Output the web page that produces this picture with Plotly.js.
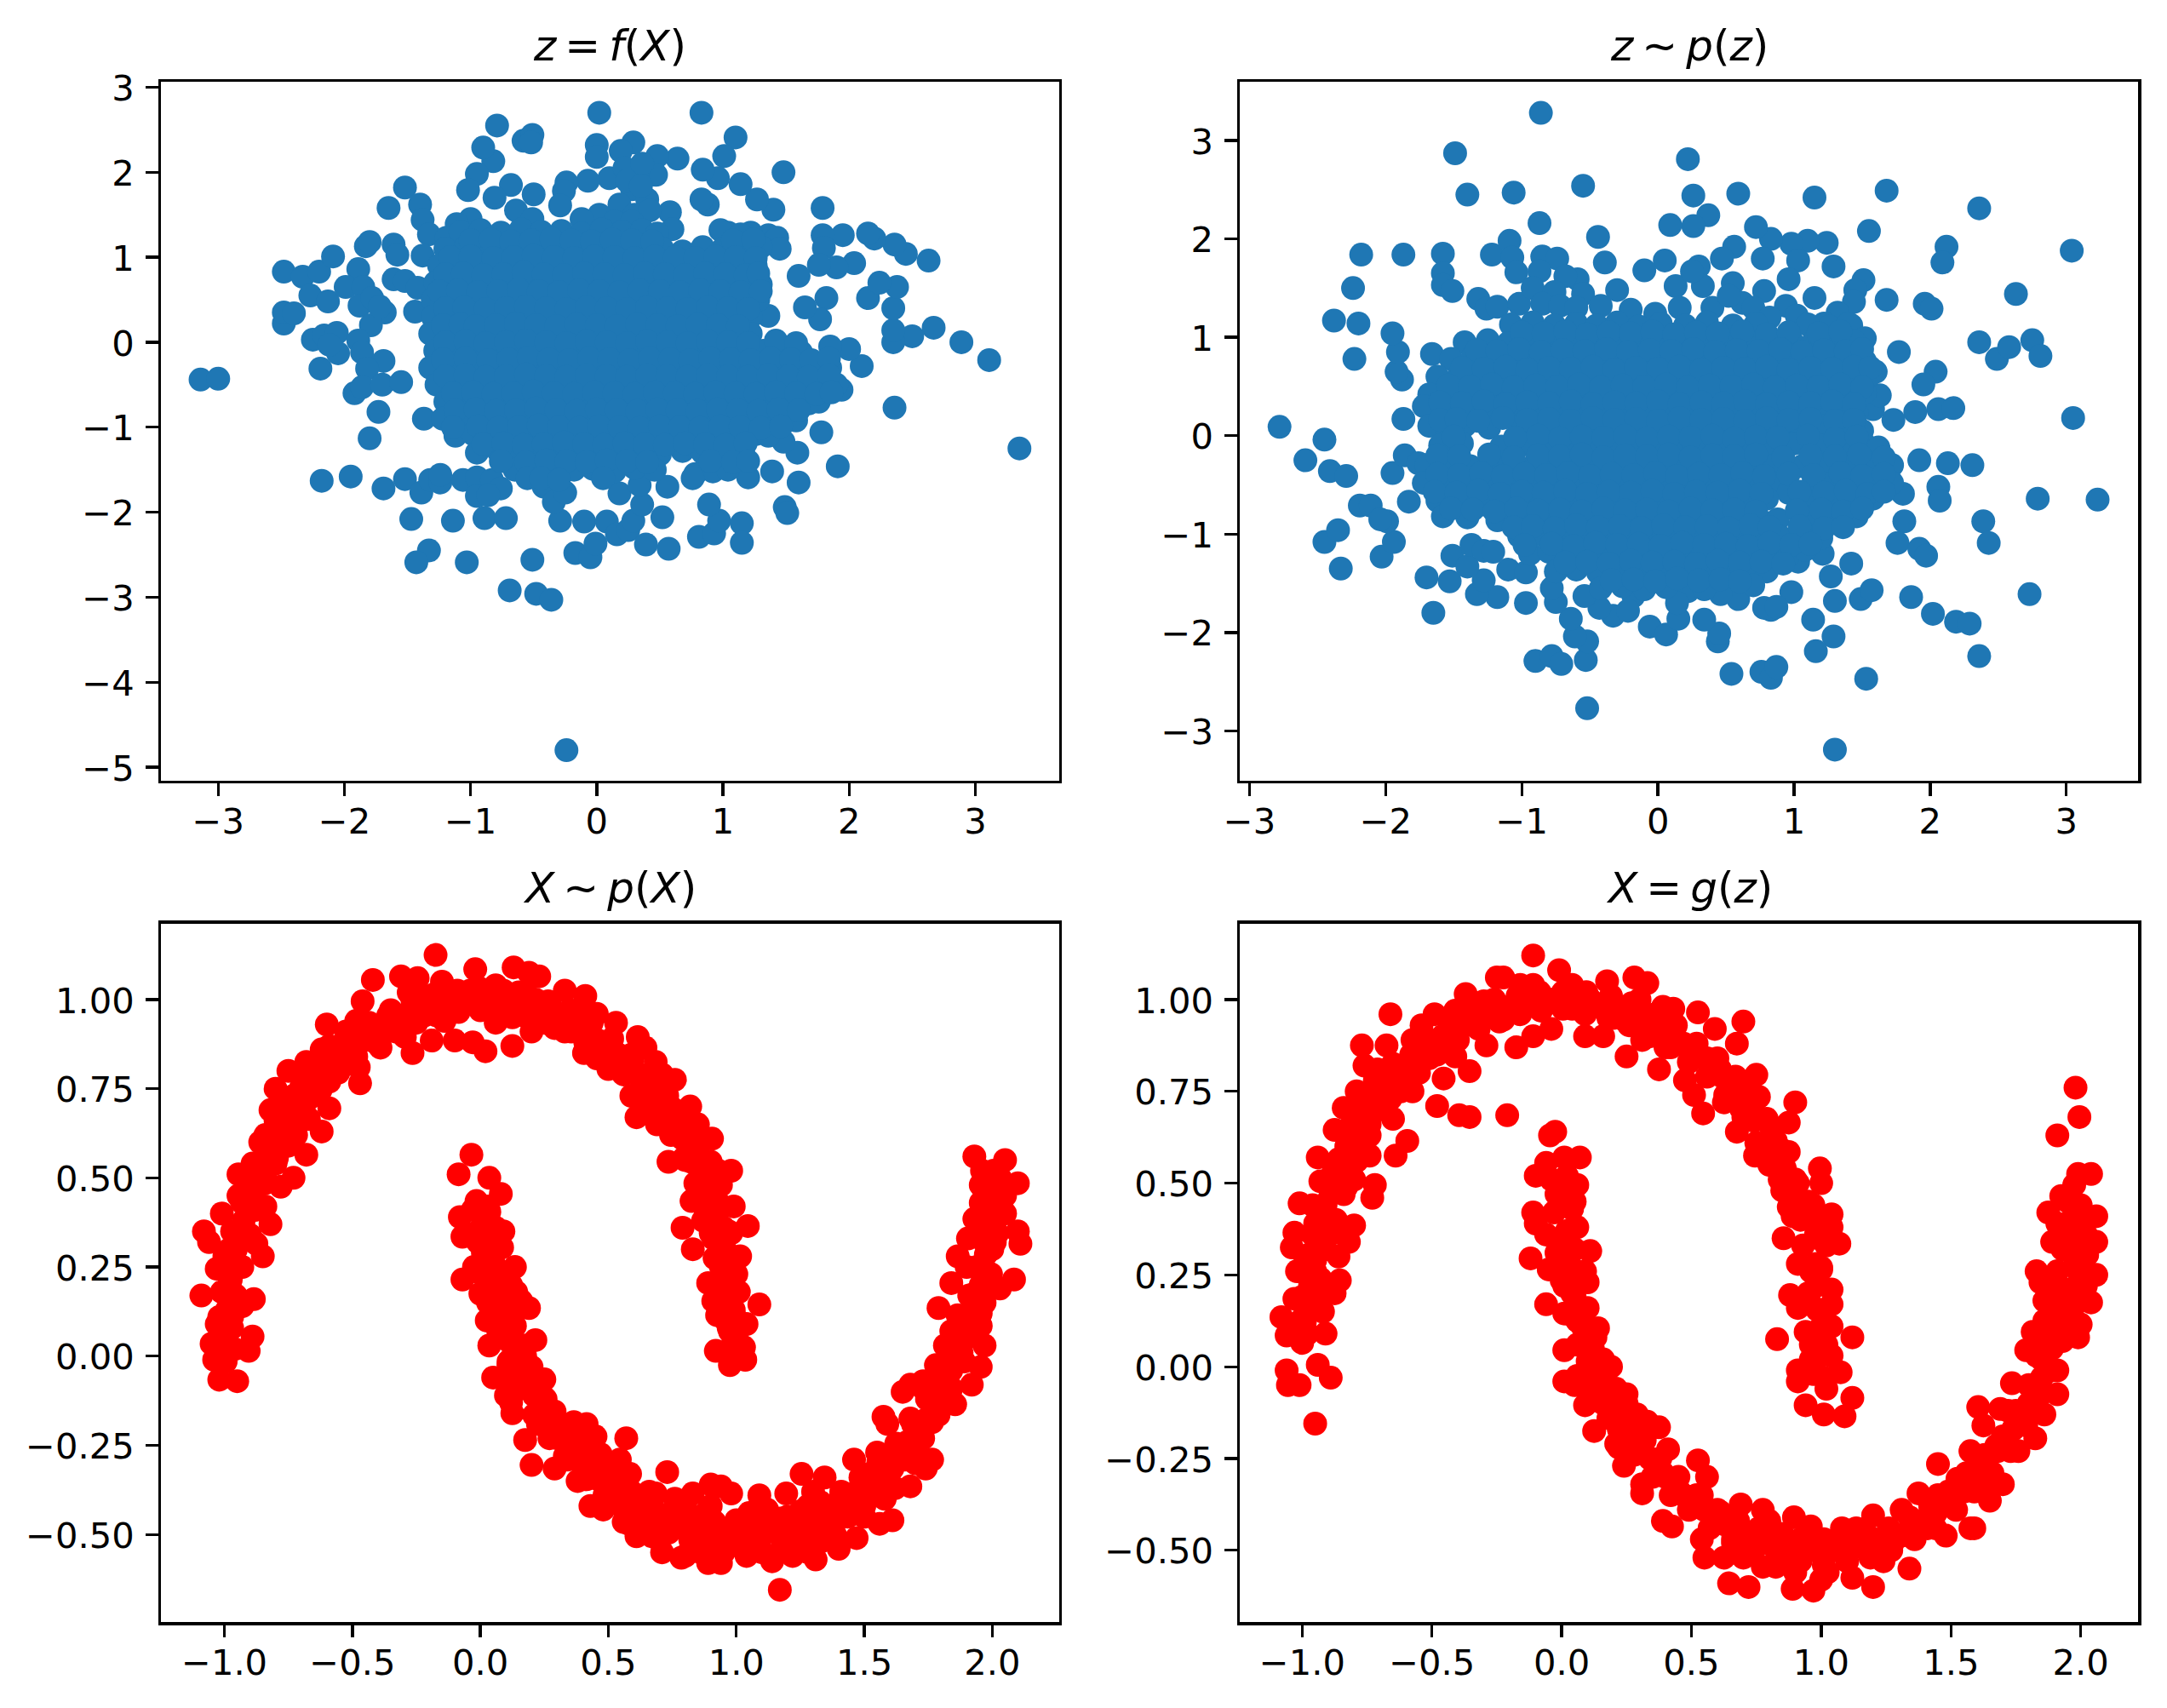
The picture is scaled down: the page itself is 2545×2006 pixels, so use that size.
<!DOCTYPE html>
<html><head><meta charset="utf-8">
<script src="https://cdn.plot.ly/plotly-3.0.1.min.js"></script>
<style>html,body{margin:0;padding:0;background:#fff}</style></head><body><div id="c" style="width:2545px;height:2006px"></div>
<script>
const zFromX = [[-3.14,-.44],[-3,-.43],[-2.48,.83],[-2.48,.22],[-2.48,.35],[-2.4,.34],[-2.33,.77],[-2.2,.83],[-2.27,.55],[-2.13,.48],[-2.09,1.01],[-1.89,.86],[-1.99,.65],[-1.85,.65],[-1.88,.43],[-1.83,1.13],[-1.8,1.18],[-1.61,1.15],[-1.58,1.03],[-1.65,1.58],[-1.52,1.82],[-1.4,1.62],[-1.38,1.44],[-1.33,1.27],[-1.38,1.02],[-1.61,.74],[-1.52,.72],[-1.42,.64],[-1.78,.52],[-1.68,.35],[-1.79,.2],[-1.44,.36],[-1.72,.42],[-2.25,.03],[-2.16,.08],[-2.06,.11],[-2.05,-.13],[-2.19,-.31],[-2.12,-.03],[-1.89,.02],[-1.86,-.12],[-1.69,-.22],[-1.82,-.31],[-1.92,-.6],[-1.86,-.53],[-1.7,-.5],[-1.55,-.47],[-1.73,-.82],[-1.8,-1.13],[-2.18,-1.63],[-1.95,-1.58],[-1.69,-1.72],[-1.52,-1.61],[-1.39,-1.77],[-1.32,-1.62],[-1.24,-1.65],[-1.24,-1.56],[-1.06,-1.62],[-.95,-1.59],[-.83,-1.62],[-.76,-1.72],[-.95,-1.81],[-.86,-1.8],[-1.47,-2.08],[-1.14,-2.1],[-.89,-2.07],[-.72,-2.07],[-1.33,-2.45],[-1.43,-2.59],[-1.03,-2.59],[-.51,-2.56],[-.69,-2.92],[-.48,-2.96],[-.36,-3.03],[-.24,-4.8],[-.17,-2.48],[-.05,-2.53],[-.01,-2.37],[-.29,-2.1],[-.1,-2.11],[.08,-2.11],[.16,-2.26],[.25,-2.21],[.29,-2.1],[.36,-1.91],[.39,-2.38],[.57,-2.43],[.52,-2.06],[.18,-1.78],[.34,-1.68],[.56,-1.7],[.81,-2.29],[.93,-2.25],[.97,-2.1],[.89,-1.91],[1.15,-2.13],[1.15,-2.36],[1.49,-1.94],[1.51,-2.01],[1.6,-1.65],[1.39,-1.52],[1.2,-1.59],[1.91,-1.46],[1.59,-1.3],[1.48,-1.17],[1.78,-1.06],[2.36,-.77],[3.35,-1.25],[3.11,-.21],[2.89,0],[2.67,.17],[2.5,.07],[2.35,0],[2.35,.14],[2.1,-.28],[2,-.08],[1.85,-.05],[1.94,-.56],[2.35,.4],[2.38,.65],[2.15,.52],[2.24,.7],[2.63,.96],[2.45,1.04],[2.36,1.15],[2.2,1.22],[2.15,1.28],[1.95,1.26],[1.79,1.26],[1.79,1.58],[1.8,1.11],[2.04,.93],[1.9,.88],[1.76,.91],[1.6,.78],[1.82,.52],[1.77,.27],[1.65,.41],[1.36,.31],[1.19,.19],[1.48,2],[1.4,1.56],[1.27,1.68],[1.14,1.86],[1.1,2.41],[1.01,2.19],[.96,1.93],[.84,2.03],[.83,2.7],[.02,2.7],[.64,2.16],[.48,2.19],[.47,1.97],[.29,2.35],[.19,2.25],[0,2.32],[0,2.18],[.1,1.93],[-.07,1.9],[-.24,1.88],[-.26,1.78],[-.29,1.61],[-.5,1.74],[-.68,1.85],[-.81,1.7],[-.82,2.13],[-.9,2.29],[-.79,2.55],[-.58,2.37],[-.51,2.44],[-.52,2.35],[-.95,1.98],[-1.02,1.79],[-.64,1.55],[-.51,1.45],[-1,1.45],[-1.11,1.39],[-1.19,1.23],[.88,1.62],[.83,1.68],[.58,1.53],[.6,1.33],[1.36,1.26],[1.43,1.23],[1.45,1.1],[1.06,.91],[1.04,1.29],[1.22,1.29],[.32,1.95],[.22,2.05],[.36,2.1],[.28,1.8],[.4,1.68],[.18,1.62],[.02,1.5],[.3,1.5],[.24,1.9],[.35,1.84],[.42,1.55],[.14,1.42],[.28,1.42],[-.12,1.45],
[-1.08,1.3],[-.92,1.32],[-.76,1.29],[-.6,1.33],[-.44,1.3],[-.28,1.31],[-.12,1.28],[.04,1.33],[.2,1.3],[.36,1.32],[.48,1.28],[.98,1.32],[1.14,1.27],
[-1.2,1.1],[-1.04,1.12],[-.88,1.09],[-.72,1.11],[-.56,1.08],[-.4,1.12],[-.24,1.1],[-.08,1.09],[.08,1.11],[.24,1.08],[.4,1.12],[.52,1.1],[.68,1.07],[.84,1.12],[1,1.1],[1.16,1.09],[1.3,1.12],
[-1.25,.9],[-1.12,.92],[-.96,.89],[-.8,.91],[-.64,.88],[-.48,.92],[-.32,.9],[-.16,.89],[0,.91],[.16,.88],[.32,.92],[.48,.9],[.64,.89],[.8,.91],[.96,.88],[1.12,.92],[1.26,.9],
[-1.28,.7],[-1.18,.72],[-1.04,.69],[-.88,.71],[-.72,.68],[-.56,.72],[-.4,.7],[-.24,.69],[-.08,.71],[.08,.68],[.24,.72],[.4,.7],[.56,.69],[.72,.71],[.88,.68],[1.04,.72],[1.2,.7],[1.3,.68],
[-1.3,.5],[-1.12,.52],[-.96,.49],[-.8,.51],[-.64,.48],[-.48,.52],[-.32,.5],[-.16,.49],[0,.51],[.16,.48],[.32,.52],[.48,.5],[.64,.49],[.8,.51],[.96,.48],[1.12,.52],[1.28,.5],
[-1.3,.3],[-1.18,.32],[-1.04,.29],[-.88,.31],[-.72,.28],[-.56,.32],[-.4,.3],[-.24,.29],[-.08,.31],[.08,.28],[.24,.32],[.4,.3],[.56,.29],[.72,.31],[.88,.28],[1.04,.32],[1.22,.3],
[-1.32,.1],[-1.16,.12],[-.96,.09],[-.8,.11],[-.64,.08],[-.48,.12],[-.32,.1],[-.16,.09],[0,.11],[.16,.08],[.32,.12],[.48,.1],[.64,.09],[.8,.11],[.96,.08],[1.12,.12],[1.22,.1],
[-1.28,-.1],[-1.1,-.08],[-.92,-.11],[-.76,-.09],[-.6,-.12],[-.44,-.08],[-.28,-.1],[-.12,-.11],[.04,-.09],[.2,-.12],[.36,-.08],[.52,-.1],[.68,-.11],[.84,-.09],[1,-.12],[1.16,-.08],[1.32,-.1],[1.48,-.09],[1.62,-.12],
[-1.32,-.3],[-1.16,-.28],[-1,-.31],[-.84,-.29],[-.68,-.32],[-.52,-.28],[-.36,-.3],[-.2,-.31],[-.04,-.29],[.12,-.32],[.28,-.28],[.44,-.3],[.6,-.31],[.76,-.29],[.92,-.32],[1.08,-.28],[1.24,-.3],[1.4,-.29],[1.56,-.32],[1.72,-.28],[1.85,-.3],
[-1.27,-.5],[-1.1,-.48],[-.94,-.51],[-.78,-.49],[-.62,-.52],[-.46,-.48],[-.3,-.5],[-.14,-.51],[.02,-.49],[.18,-.52],[.34,-.48],[.5,-.5],[.66,-.51],[.82,-.49],[.98,-.52],[1.14,-.48],[1.3,-.5],[1.46,-.49],[1.62,-.52],[1.78,-.48],[1.9,-.5],
[-1.2,-.7],[-1.04,-.68],[-.88,-.71],[-.72,-.69],[-.56,-.72],[-.4,-.68],[-.24,-.7],[-.08,-.71],[.08,-.69],[.24,-.72],[.4,-.68],[.56,-.7],[.72,-.71],[.88,-.69],[1.04,-.72],[1.2,-.68],[1.36,-.7],[1.52,-.69],[1.68,-.72],[1.76,-.7],
[-1.37,-.9],[-1.22,-.9],[-1.06,-.88],[-.9,-.91],[-.74,-.89],[-.58,-.92],[-.42,-.88],[-.26,-.9],[-.1,-.91],[.06,-.89],[.22,-.92],[.38,-.88],[.54,-.9],[.7,-.91],[.86,-.89],[1.02,-.92],[1.18,-.88],[1.34,-.9],[1.5,-.89],[1.58,-.92],
[-1.12,-1.1],[-.98,-1.08],[-.82,-1.11],[-.66,-1.09],[-.5,-1.12],[-.34,-1.08],[-.18,-1.1],[-.02,-1.11],[.14,-1.09],[.3,-1.12],[.46,-1.08],[.62,-1.1],[.78,-1.11],[.94,-1.09],[1.1,-1.12],[1.26,-1.08],[1.36,-1.1],
[-.95,-1.3],[-.78,-1.28],[-.62,-1.31],[-.46,-1.29],[-.3,-1.32],[-.14,-1.28],[.02,-1.3],[.18,-1.31],[.34,-1.29],[.5,-1.32],[.68,-1.28],[.84,-1.3],[1,-1.31],[1.16,-1.29],
[-.65,-1.5],[-.5,-1.52],[-.34,-1.48],[-.18,-1.5],[-.03,-1.49],[.14,-1.52],[.3,-1.48],[.46,-1.5],[.78,-1.55],[.92,-1.52],[1.04,-1.5],[-.42,-1.7],[-.34,-1.88],[-.25,-1.77],[.76,-1.6],
[-1,1.2],[-.84,1.21],[-.68,1.19],[-.52,1.2],[-.36,1.22],[-.2,1.2],[-.04,1.19],[.12,1.21],[.28,1.2],[.44,1.19],[1.08,1.2],[1.24,1.21],
[-1.16,1],[-1,1.01],[-.82,.99],[-.66,1],[-.5,1.02],[-.34,1],[-.18,.99],[-.02,1.01],[.14,1],[.3,.99],[.46,1.01],[.62,1],[.78,.99],[.94,1.01],[1.1,1],[1.26,.99],
[-1.2,.8],[-1.06,.81],[-.9,.79],[-.74,.8],[-.58,.82],[-.42,.8],[-.26,.79],[-.1,.81],[.06,.8],[.22,.79],[.38,.81],[.54,.8],[.7,.79],[.86,.81],[1.02,.8],[1.18,.79],[1.28,.81],
[-1.25,.6],[-1.1,.61],[-.94,.59],[-.78,.6],[-.62,.62],[-.46,.6],[-.3,.59],[-.14,.61],[.02,.6],[.18,.59],[.34,.61],[.5,.6],[.66,.59],[.82,.61],[.98,.6],[1.14,.59],[1.3,.6],
[-1.2,.4],[-1.05,.41],[-.88,.39],[-.72,.4],[-.56,.42],[-.4,.4],[-.24,.39],[-.08,.41],[.08,.4],[.24,.39],[.4,.41],[.56,.4],[.72,.39],[.88,.41],[1.04,.4],[1.2,.39],
[-1.22,.2],[-1.08,.21],[-.96,.19],[-.8,.2],[-.64,.22],[-.48,.2],[-.32,.19],[-.16,.21],[0,.2],[.16,.19],[.32,.21],[.48,.2],[.64,.19],[.8,.21],[.96,.2],[1.12,.19],
[-1.2,0],[-1.04,.01],[-.88,-.01],[-.72,0],[-.56,.02],[-.4,0],[-.24,-.01],[-.08,.01],[.08,0],[.24,-.01],[.4,.01],[.56,0],[.72,-.01],[.88,.01],[1.04,0],[1.2,-.01],[1.42,.02],[1.58,-.01],
[-1.22,-.2],[-1.04,-.19],[-.86,-.21],[-.7,-.2],[-.54,-.18],[-.38,-.2],[-.22,-.21],[-.06,-.19],[.1,-.2],[.26,-.21],[.42,-.19],[.58,-.2],[.74,-.21],[.9,-.19],[1.06,-.2],[1.22,-.21],[1.38,-.19],[1.54,-.2],[1.7,-.21],[1.84,-.19],
[-1.2,-.4],[-1.04,-.39],[-.88,-.41],[-.72,-.4],[-.56,-.38],[-.4,-.4],[-.24,-.41],[-.08,-.39],[.08,-.4],[.24,-.41],[.4,-.39],[.56,-.4],[.72,-.41],[.88,-.39],[1.04,-.4],[1.2,-.41],[1.36,-.39],[1.52,-.4],[1.68,-.41],[1.84,-.39],
[-1.14,-.6],[-.98,-.59],[-.82,-.61],[-.66,-.6],[-.5,-.58],[-.34,-.6],[-.18,-.61],[-.02,-.59],[.14,-.6],[.3,-.61],[.46,-.59],[.62,-.6],[.78,-.61],[.94,-.59],[1.1,-.6],[1.26,-.61],[1.42,-.59],[1.58,-.6],[1.74,-.61],[1.86,-.59],
[-1.12,-.8],[-.96,-.79],[-.8,-.81],[-.64,-.8],[-.48,-.78],[-.32,-.8],[-.16,-.81],[0,-.79],[.16,-.8],[.32,-.81],[.48,-.79],[.64,-.8],[.8,-.81],[.96,-.79],[1.12,-.8],[1.28,-.81],[1.44,-.79],[1.6,-.8],
[-1.14,-1],[-.94,-.99],[-.78,-1.01],[-.62,-1],[-.46,-.98],[-.3,-1],[-.14,-1.01],[.02,-.99],[.18,-1],[.34,-1.01],[.5,-.99],[.66,-1],[.82,-1.01],[.98,-.99],[1.14,-1],[1.3,-1.01],[1.46,-.99],
[-.9,-1.2],[-.74,-1.19],[-.58,-1.21],[-.42,-1.2],[-.26,-1.18],[-.1,-1.2],[.06,-1.21],[.22,-1.19],[.38,-1.2],[.54,-1.21],[.7,-1.19],[.86,-1.2],[1.02,-1.21],[1.18,-1.19],
[-.76,-1.4],[-.56,-1.41],[-.4,-1.39],[-.24,-1.4],[-.08,-1.41],[.08,-1.39],[.24,-1.4],[.4,-1.41],[.9,-1.4],[1.08,-1.41],[1.2,-1.4],[-.55,-1.6],[-.44,-1.6],[-.3,-1.62],[.05,-1.6]];

const zPrior = [[-2.78,.09],[-2.45,-.04],[-2.59,-.25],[-2.41,-.36],[-2.29,-.41],[-2.19,-.71],[-2.11,-.71],[-2.45,-1.08],[-2.35,-.96],[-2.33,-1.35],[-2.03,-1.23],[-1.94,-1.08],[-1.99,-.87],[-2.04,-.85],[-1.95,-.38],[-1.83,-.67],[-1.86,-.2],[-1.76,-.28],[-1.87,.17],[-1.88,.57],[-1.92,.65],[-1.91,.85],[-1.95,1.04],[-2.23,.78],[-2.2,1.14],[-2.38,1.17],[-2.24,1.5],[-2.18,1.84],[-1.87,1.84],[-1.58,1.85],[-1.58,1.65],[-1.58,1.53],[-1.51,1.47],[-1.66,.83],[-1.49,2.87],[-1.4,2.45],[-1.06,2.47],[-.86,3.28],[-.87,2.16],[-.55,2.54],[.22,2.81],[.59,2.46],[.26,2.44],[.37,2.24],[.26,2.13],[.09,2.14],[-.44,2.02],[-.39,1.76],[-1.22,1.84],[-1.09,1.98],[-1.07,1.81],[-1.04,1.66],[-1.32,1.39],[-1.26,1.29],[-1.18,1.31],[-1.02,1.34],[-.85,1.82],[-.74,1.8],[-.87,1.67],[-.59,1.59],[-.68,1.62],[1.15,2.42],[1.68,2.49],[2.36,2.31],[3.04,1.88],[2.12,1.92],[2.09,1.76],[1.55,2.08],[1.24,1.96],[1.1,1.98],[.98,1.95],[.83,2],[.72,2.12],[.56,1.92],[.47,1.8],[.77,1.8],[1.29,1.72],[1.03,1.78],[.96,1.59],[.78,1.47],[.94,1.32],[1.51,1.58],[1.45,1.48],[1.44,1.36],[1.68,1.38],[1.96,1.34],[2.01,1.29],[2.63,1.44],[2.36,.95],[2.49,.78],[2.58,.9],[2.75,.97],[2.81,.81],[1.77,.85],[2.04,.65],[1.95,.52],[2.06,.27],[2.17,.28],[1.89,.24],[1.73,.16],[1.58,.27],[1.63,.41],[1.6,.65],[3.05,.18],[3.23,-.65],[2.79,-.64],[2.39,-.87],[2.43,-1.09],[2.73,-1.61],[2.31,-.3],[2.13,-.28],[1.92,-.25],[2.06,-.52],[2.07,-.66],[1.8,-.59],[1.81,-.87],[1.76,-1.09],[1.92,-1.15],[1.97,-1.22],[1.86,-1.64],[2.02,-1.81],[2.19,-1.89],[2.29,-1.91],[2.36,-2.24],[1.53,-2.47],[1.3,-3.19],[1.29,-2.04],[1.16,-2.19],[1.14,-1.87],[1.3,-1.68],[1.27,-1.43],[1.49,-1.66],[1.57,-1.57],[1.42,-1.3],[1.21,-1.2],[1.03,-1.28],[.98,-1.59],[.83,-1.77],[.78,-1.75],[.87,-1.74],[.76,-2.4],[.83,-2.46],[.87,-2.35],[.54,-2.42],[.44,-2.09],[.45,-2.01],[.34,-1.87],[.59,-1.66],[.46,-1.61],[-.52,-2.77],[-.53,-2.28],[-.52,-2.09],[-.61,-2.04],[-.64,-1.86],[-.9,-2.29],[-.78,-2.24],[-.71,-2.32],[-.97,-1.7],[-.33,-1.83],[-.43,-1.75],[-.54,-1.63],[-.75,-1.69],[-.78,-1.55],[-1.65,-1.8],[-1.7,-1.44],[-1.53,-1.48],[-1.51,-1.22],[-1.18,-1.64],[-1.33,-1.61],[-1.28,-1.47],[-1.4,-1.33],[-1.37,-1.11],[-1.28,-1.17],[-1.21,-1.18],[-1.1,-1.36],[-.97,-1.39],[-.06,-1.94],[.06,-2.02],[.15,-1.86],[-.18,-1.63],[.22,-1.58],[.14,-1.7],[-.22,-1.78],
[-.92,1.5],[-.76,1.46],[-.55,1.44],[-.3,1.48],[.13,1.52],[.3,1.72],[.33,1.52],[.55,1.55],[.62,1.35],[.05,1.78],[-.1,1.68],[.25,1.67],[1.15,1.4],[1.32,1.25],[1.42,1.12],[-.85,1.34],[-.72,1.32],[-.6,1.3],[-.42,1.32],[.4,1.3],[.52,1.42],[.7,1.3],[.82,1.2],[1.02,1.22],[1.22,1.14],[-.2,1.28],[-.02,1.24],[.16,1.3],
[-1.08,1.13],[-.92,1.15],[-.76,1.12],[-.6,1.14],[-.45,1.12],[-.3,1.15],[-.14,1.11],[.02,1.14],[.2,1.12],[.36,1.15],[.55,1.12],[.72,1.14],[1.1,1.13],[1.26,1.11],[1.4,1.14],[1.52,.99],
[-1.42,.95],[-1.25,.97],[-1.1,.94],[-.94,.96],[-.78,.93],[-.62,.97],[-.46,.95],[-.3,.94],[-.14,.96],[.02,.93],[.18,.97],[.34,.95],[.5,.94],[.66,.96],[.82,.93],[.98,.97],[1.14,.95],[1.3,.94],[1.44,.96],
[-1.52,.78],[-1.36,.8],[-1.2,.77],[-1.04,.79],[-.88,.76],[-.72,.8],[-.56,.78],[-.4,.77],[-.24,.79],[-.08,.76],[.08,.8],[.24,.78],[.4,.77],[.56,.79],[.72,.76],[.88,.8],[1.04,.78],[1.2,.77],[1.36,.79],[1.52,.76],
[-1.62,.6],[-1.46,.62],[-1.3,.59],[-1.14,.61],[-.98,.58],[-.82,.62],[-.66,.6],[-.5,.59],[-.34,.61],[-.18,.58],[-.02,.62],[.14,.6],[.3,.59],[.46,.61],[.62,.58],[.78,.62],[.94,.6],[1.1,.59],[1.26,.61],[1.42,.58],[1.56,.62],
[-1.68,.42],[-1.52,.44],[-1.36,.41],[-1.2,.43],[-1.04,.4],[-.88,.44],[-.72,.42],[-.56,.41],[-.4,.43],[-.24,.4],[-.08,.44],[.08,.42],[.24,.41],[.4,.43],[.56,.4],[.72,.44],[.88,.42],[1.04,.41],[1.2,.43],[1.36,.4],[1.52,.44],
[-1.72,.3],[-1.56,.25],[-1.4,.27],[-1.24,.24],[-1.05,.26],[-.88,.23],[-.72,.27],[-.56,.25],[-.4,.24],[-.24,.26],[-.08,.23],[.08,.27],[.24,.25],[.4,.24],[.56,.26],[.72,.23],[.88,.27],[1.04,.25],[1.2,.24],[1.36,.26],[1.46,.23],
[-1.68,.1],[-1.55,.05],[-1.42,.1],[-1.24,.08],[-1.02,.1],[-.86,.07],[-.7,.09],[-.54,.06],[-.38,.1],[-.22,.08],[-.06,.07],[.1,.09],[.26,.06],[.42,.1],[.58,.08],[.74,.07],[.9,.09],[1.06,.06],[1.22,.1],[1.38,.08],[1.5,.05],
[-1.6,-.1],[-1.44,-.08],[-1.15,-.11],[-.96,-.09],[-.8,-.12],[-.64,-.08],[-.48,-.1],[-.32,-.11],[-.16,-.09],[0,-.12],[.16,-.08],[.32,-.1],[.48,-.11],[.64,-.09],[.8,-.12],[1,-.08],[1.2,-.1],[1.38,-.11],[1.52,-.09],[1.62,-.12],
[-1.7,-.3],[-1.54,-.28],[-1.38,-.31],[-1.22,-.29],[-1.06,-.32],[-.9,-.28],[-.74,-.3],[-.58,-.31],[-.42,-.29],[-.26,-.32],[-.1,-.28],[.06,-.3],[.22,-.31],[.38,-.29],[.54,-.32],[.7,-.28],[.86,-.3],[1.06,-.31],[1.24,-.29],[1.42,-.32],[1.58,-.28],[1.72,-.3],
[-1.72,-.48],[-1.56,-.46],[-1.4,-.49],[-1.24,-.47],[-1.08,-.5],[-.92,-.46],[-.76,-.48],[-.6,-.49],[-.44,-.47],[-.28,-.5],[-.12,-.46],[.04,-.48],[.2,-.49],[.36,-.47],[.52,-.5],[.68,-.46],[.84,-.48],[.96,-.58],[1.14,-.49],[1.3,-.47],[1.46,-.5],[1.62,-.46],[1.72,-.48],
[-1.62,-.66],[-1.46,-.64],[-1.28,-.7],[-1.1,-.65],[-.94,-.68],[-.78,-.64],[-.62,-.66],[-.46,-.67],[-.3,-.65],[-.14,-.68],[.02,-.64],[.18,-.66],[.34,-.67],[.5,-.65],[.66,-.68],[.8,-.64],[1.1,-.67],[1.26,-.65],[1.42,-.68],[1.58,-.64],
[-1.58,-.82],[-1.4,-.83],[-1.18,-.86],[-1.02,-.82],[-.86,-.84],[-.7,-.85],[-.54,-.83],[-.38,-.86],[-.22,-.82],[-.06,-.84],[.1,-.85],[.26,-.83],[.42,-.86],[.58,-.82],[.74,-.84],[.88,-.85],[1.12,-.83],[1.3,-.86],[1.46,-.82],
[-1.02,-1.02],[-.86,-1],[-.7,-1.03],[-.54,-1.01],[-.38,-1.04],[-.22,-1],[-.06,-1.02],[.1,-1.03],[.26,-1.01],[.42,-1.04],[.58,-1],[.74,-1.02],[.9,-1.03],[1.08,-1.01],[1.2,-1.04],
[-.94,-1.2],[-.8,-1.18],[-.64,-1.21],[-.48,-1.19],[-.32,-1.22],[-.16,-1.18],[0,-1.2],[.16,-1.21],[.32,-1.19],[.48,-1.22],[.64,-1.18],[.8,-1.2],[.96,-1.21],[1.08,-1.16],
[-.75,-1.38],[-.6,-1.36],[-.44,-1.39],[-.28,-1.37],[-.12,-1.4],[.04,-1.36],[.2,-1.38],[.36,-1.39],[.52,-1.37],[.68,-1.4],[.8,-1.38],
[-.42,-1.55],[-.26,-1.53],[-.1,-1.56],[.06,-1.54],[.34,-1.56],[.7,-1.52],
[-1,1.05],[-.84,1.04],[-.68,1.06],[-.52,1.03],[-.36,1.05],[-.2,1.04],[-.04,1.06],[.12,1.03],[.28,1.05],[.44,1.04],[.62,1.06],[.8,1.03],[.96,1.05],[1.18,1.04],[1.34,1.06],
[-1.33,.87],[-1.18,.86],[-1.02,.88],[-.86,.85],[-.7,.87],[-.54,.86],[-.38,.88],[-.22,.85],[-.06,.87],[.1,.86],[.26,.88],[.42,.85],[.58,.87],[.74,.86],[.9,.88],[1.06,.85],[1.22,.87],[1.38,.86],[1.5,.88],
[-1.44,.69],[-1.28,.68],[-1.12,.7],[-.96,.67],[-.8,.69],[-.64,.68],[-.48,.7],[-.32,.67],[-.16,.69],[0,.68],[.16,.7],[.32,.67],[.48,.69],[.64,.68],[.8,.7],[.96,.67],[1.12,.69],[1.28,.68],[1.44,.7],[1.56,.69],
[-1.54,.51],[-1.38,.5],[-1.22,.52],[-1.06,.49],[-.9,.51],[-.74,.5],[-.58,.52],[-.42,.49],[-.26,.51],[-.1,.5],[.06,.52],[.22,.49],[.38,.51],[.54,.5],[.7,.52],[.86,.49],[1.02,.51],[1.18,.5],[1.34,.52],[1.5,.49],
[-1.6,.34],[-1.44,.33],[-1.28,.35],[-1.12,.32],[-.96,.34],[-.8,.33],[-.64,.35],[-.48,.32],[-.32,.34],[-.16,.33],[0,.35],[.16,.32],[.32,.34],[.48,.33],[.64,.35],[.8,.32],[.96,.34],[1.12,.33],[1.28,.35],[1.44,.32],
[-1.6,.16],[-1.48,.17],[-1.32,.15],[-1.14,.18],[-.96,.16],[-.8,.17],[-.64,.15],[-.48,.18],[-.32,.16],[-.16,.17],[0,.15],[.16,.18],[.32,.16],[.48,.17],[.64,.15],[.8,.18],[.96,.16],[1.12,.17],[1.3,.15],[1.44,.16],
[-1.5,-.01],[-1.05,-.02],[-.88,0],[-.72,-.03],[-.56,-.01],[-.4,-.02],[-.24,0],[-.08,-.03],[.08,-.01],[.24,-.02],[.4,0],[.56,-.03],[.72,-.01],[.88,-.02],[1.1,0],[1.3,-.03],[1.46,-.01],
[-1.62,-.2],[-1.46,-.21],[-1.24,-.19],[-1.06,-.22],[-.88,-.2],[-.72,-.21],[-.56,-.19],[-.4,-.22],[-.24,-.2],[-.08,-.21],[.08,-.19],[.24,-.22],[.4,-.2],[.56,-.21],[.72,-.19],[.92,-.22],[1.12,-.2],[1.3,-.21],[1.48,-.19],[1.66,-.22],
[-1.62,-.39],[-1.46,-.4],[-1.3,-.38],[-1.14,-.41],[-.98,-.39],[-.82,-.4],[-.66,-.38],[-.5,-.41],[-.34,-.39],[-.18,-.4],[-.02,-.38],[.14,-.41],[.3,-.39],[.46,-.4],[.62,-.38],[.78,-.41],[.96,-.39],[1.14,-.4],[1.34,-.38],[1.5,-.41],[1.66,-.39],
[-1.64,-.57],[-1.48,-.58],[-1.32,-.56],[-1.16,-.59],[-1,-.57],[-.84,-.58],[-.68,-.56],[-.52,-.59],[-.36,-.57],[-.2,-.58],[-.04,-.56],[.12,-.59],[.28,-.57],[.44,-.58],[.6,-.56],[.76,-.59],[1.04,-.57],[1.22,-.58],[1.38,-.56],[1.54,-.59],[1.66,-.57],
[-1.52,-.74],[-1.36,-.75],[-1.2,-.77],[-1.04,-.74],[-.88,-.76],[-.72,-.75],[-.56,-.77],[-.4,-.74],[-.24,-.76],[-.08,-.75],[.08,-.77],[.24,-.74],[.4,-.76],[.56,-.75],[.72,-.77],[1.02,-.76],[1.2,-.75],[1.36,-.77],[1.5,-.74],
[-1.06,-.93],[-.92,-.92],[-.76,-.94],[-.6,-.91],[-.44,-.93],[-.28,-.92],[-.12,-.94],[.04,-.91],[.2,-.93],[.36,-.92],[.52,-.94],[.68,-.91],[.82,-.93],[1.04,-.92],[1.22,-.94],[1.36,-.93],
[-.98,-1.11],[-.78,-1.1],[-.62,-1.12],[-.46,-1.09],[-.3,-1.11],[-.14,-1.1],[.02,-1.12],[.18,-1.09],[.34,-1.11],[.5,-1.1],[.66,-1.12],[.82,-1.09],[.98,-1.11],[1.12,-1.1],
[-.68,-1.29],[-.52,-1.28],[-.36,-1.3],[-.2,-1.27],[-.04,-1.29],[.12,-1.28],[.28,-1.3],[.44,-1.27],[.6,-1.29],[.76,-1.28],[.92,-1.3],
[-.34,-1.47],[-.18,-1.46],[-.02,-1.48],[.14,-1.45],[.3,-1.47],[.46,-1.46],[.6,-1.48]];

const moonsData = [[-1.02,-.066],[-.95,-.07],[-.905,.015],[-.89,.055],[-1.04,-.01],[-1.05,.035],[-.885,.16],[-1.09,.17],[-1.02,.11],[-.97,.11],[-1,.045],[-.995,-.015],[-.96,.02],[-.97,.17],[-.93,.14],[-1.08,.35],[-1.06,.32],[-1.01,.4],[-.82,.37],[-.85,.28],[-1.03,.245],[-.98,.205],[-.93,.25],[-1,.28],[-.875,.315],[-.945,.32],[-.945,.45],[-.945,.51],[-.89,.54],[-.78,.475],[-.73,.5],[-.89,.46],[-.84,.42],[-.905,.405],[-.93,.36],[-.84,.5],[-.8,.54],[-.68,.565],[-.75,.59],[-.84,.62],[-.78,.64],[-.62,.63],[-.82,.69],[-.73,.68],[-.67,.665],[-.8,.75],[-.75,.8],[-.68,.825],[-.7,.755],[-.59,.695],[-.665,.725],[-.59,.77],[-.615,.81],[-.47,.765],[-.475,.81],[-.6,.93],[-.59,.87],[-.525,.91],[-.46,.995],[-.42,1.055],[-.485,.94],[-.535,.85],[-.47,.88],[-.39,.865],[-.41,.925],[-.36,.955],[-.31,1.065],[-.245,1.06],[-.28,1.02],[-.175,1.125],[-.15,1.05],[-.265,.85],[-.19,.885],[-.1,.885],[-.03,.88],[.02,.855],[.125,.87],[-.295,.895],[-.32,.955],[-.22,.955],[-.22,1],[-.13,.995],[-.14,.94],[-.02,1.085],[.13,1.09],[-.04,1.025],[0,.985],[.06,1.04],[.06,.935],[.125,.95],[.19,1.075],[.23,1.065],[.15,1.02],[.215,1],[.2,.91],[.29,.92],[.275,.98],[.33,1.025],[.41,1.01],[.38,.97],[.355,.91],[.405,.85],[.455,.96],[.455,.835],[.53,.935],[.5,.805],[.56,.79],[.49,.87],[.615,.895],[.645,.865],[.595,.835],[.59,.73],[.61,.67],[.69,.65],[.685,.825],[.71,.79],[.645,.76],[.76,.775],[.695,.725],[.75,.695],[.82,.7],[.85,.65],[.775,.635],[.905,.61],[.735,.545],[.825,.545],[.8,.605],[.9,.545],[.98,.52],[.94,.48],[.825,.435],[.99,.42],[.9,.42],[.79,.36],[.83,.3],[1.045,.365],[.9,.345],[.98,.345],[.915,.275],[1.015,.28],[.89,.205],[1,.23],[.95,.19],[.91,.155],[1.09,.145],[1.04,.09],[.925,.115],[.99,.12],[.975,.07],[.92,.015],[.975,-.025],[1.035,-.01],[1.03,.025],[.975,.02],[.975,.16],
[-.035,.565],[-.085,.51],[.035,.5],[-.08,.39],[-.07,.335],[.08,.455],[-.025,.25],[-.07,.215],[.135,.25],[.06,.36],[.085,.305],[-.015,.435],[-.02,.345],[.035,.405],[.01,.29],[.06,.22],[0,.175],[.19,.135],[.16,.155],[.1,.145],[.025,.1],[.035,.03],[.215,.045],[.135,.085],[.085,.055],[.175,0],[.11,-.025],[.05,-.06],[.25,-.065],[.15,-.055],[.1,-.11],[.125,-.16],[.215,-.1],[.29,-.155],[.175,-.235],[.2,-.305],[.225,-.19],[.3,-.23],[.29,-.315],[.365,-.185],[.415,-.19],[.45,-.225],[.38,-.35],[.355,-.27],[.47,-.275],[.57,-.23],[.545,-.29],[.43,-.42],[.48,-.43],[.415,-.345],[.585,-.33],[.495,-.36],[.73,-.325],[.56,-.465],[.61,-.505],[.67,-.505],[.71,-.55],[.685,-.385],[.62,-.405],[.76,-.4],[.83,-.385],[.785,-.565],[.89,-.58],[.94,-.58],[.94,-.365],[.98,-.385],[.75,-.46],[.835,-.5],[.9,-.42],[.95,-.51],[1.04,-.56],[1,-.46],[1.09,-.39],[1.105,-.46],[1.14,-.575],[1.17,-.655],[1.08,-.52],[1.17,-.5],[1.195,-.385],[1.23,-.53],[1.255,-.33],[1.31,-.57],[1.28,-.42],[1.345,-.34],[1.33,-.52],[1.385,-.5],[1.41,-.39],[1.47,-.51],[1.46,-.29],[1.435,-.45],[1.56,-.47],[1.61,-.46],[1.525,-.39],[1.55,-.27],[1.61,-.315],[1.68,-.365],[1.59,-.19],[1.575,-.17],[1.65,-.1],[1.74,-.315],[1.765,-.29],[1.7,-.26],[1.68,-.175],[1.765,-.185],[1.855,-.135],[1.73,-.07],[1.815,-.075],[1.78,-.025],[1.92,-.08],[1.955,-.03],[1.815,.03],[1.97,.03],[1.88,.01],[1.955,.085],[1.79,.135],[1.865,.115],[1.955,.12],[1.84,.205],[1.93,.175],[2.03,.19],[2.085,.215],[1.865,.28],[1.97,.245],[1.98,.305],[1.905,.33],[2.1,.35],[2.11,.315],[1.93,.385],[2.05,.4],[2.02,.345],[1.955,.43],[2.05,.45],[1.955,.48],[2.1,.485],[1.93,.56],[2.05,.55],[2.005,.52],[2.03,.5],
[-.97,.08],[-1.03,.09],[-.955,.17],[-1.01,.18],[-.94,.25],[-.995,.27],[-.91,.33],[-.97,.35],[-.88,.41],[-.93,.43],[-.84,.485],[-.89,.515],[-.795,.555],[-.84,.59],[-.745,.62],[-.79,.665],[-.69,.69],[-.73,.73],[-.625,.745],[-.66,.79],[-.555,.795],[-.59,.845],[-.485,.84],[-.515,.89],[-.41,.88],[-.435,.935],[-.33,.91],[-.35,.97],[-.25,.935],[-.265,.995],[-.17,.955],[-.18,1.015],[-.085,.965],[-.09,1.025],[0,.97],[0,1.03],[.085,.965],[.09,1.025],[.17,.955],[.18,1.015],[.25,.935],[.265,.995],[.33,.91],[.35,.97],[.41,.88],[.435,.935],[.485,.84],[.515,.89],[.555,.795],[.59,.845],[.625,.745],[.66,.79],[.69,.69],[.73,.73],[.745,.62],[.79,.665],[.795,.555],[.84,.59],[.84,.485],[.89,.515],[.88,.41],[.93,.43],[.91,.33],[.97,.35],[.94,.25],[.995,.27],[.955,.17],[1.01,.18],[.97,.08],[1.03,.09],[.97,0],[1.02,.01],
[-.99,.13],[-.975,.215],[-.955,.3],[-.925,.38],[-.885,.46],[-.84,.54],[-.79,.61],[-.735,.68],[-.67,.74],[-.61,.795],[-.54,.845],[-.46,.885],[-.38,.925],[-.3,.955],[-.215,.975],[-.13,.99],[-.045,1],[.045,1],[.13,.99],[.215,.975],[.3,.955],[.38,.925],[.46,.885],[.54,.845],[.61,.795],[.67,.74],[.735,.68],[.79,.61],[.84,.54],[.885,.46],[.925,.38],[.955,.3],[.975,.215],[.99,.13],[1,.045],
[.03,.42],[-.03,.41],[.045,.33],[-.01,.32],[.06,.25],[.005,.23],[.09,.17],[.03,.15],[.12,.09],[.07,.07],[.16,.015],[.11,-.015],[.205,-.055],[.16,-.09],[.255,-.12],[.21,-.165],[.31,-.19],[.27,-.23],[.375,-.245],[.34,-.29],[.445,-.295],[.41,-.345],[.515,-.34],[.485,-.39],[.59,-.38],[.565,-.435],[.67,-.41],[.65,-.47],[.75,-.435],[.735,-.495],[.83,-.455],[.82,-.515],[.915,-.465],[.91,-.525],[1,-.47],[1,-.53],[1.085,-.465],[1.09,-.525],[1.17,-.455],[1.18,-.515],[1.25,-.435],[1.265,-.495],[1.33,-.41],[1.35,-.47],[1.41,-.38],[1.435,-.435],[1.485,-.34],[1.515,-.39],[1.555,-.295],[1.59,-.345],[1.625,-.245],[1.66,-.29],[1.69,-.19],[1.73,-.23],[1.745,-.12],[1.79,-.165],[1.795,-.055],[1.84,-.09],[1.84,.015],[1.89,-.015],[1.88,.09],[1.93,.07],[1.91,.17],[1.97,.15],[1.94,.25],[1.995,.23],[1.955,.33],[2.01,.32],[1.97,.42],[2.03,.41],
[.01,.37],[.025,.285],[.045,.2],[.075,.12],[.115,.04],[.16,-.04],[.21,-.11],[.265,-.18],[.33,-.24],[.39,-.295],[.46,-.345],[.54,-.385],[.62,-.425],[.7,-.455],[.785,-.475],[.87,-.49],[.955,-.5],[1.045,-.5],[1.13,-.49],[1.215,-.475],[1.3,-.455],[1.38,-.425],[1.46,-.385],[1.54,-.345],[1.61,-.295],[1.67,-.24],[1.735,-.18],[1.79,-.11],[1.84,-.04],[1.885,.04],[1.925,.12],[1.955,.2],[1.975,.285],[1.99,.37],[2,.455],
[.66,-.44],[.88,-.44],[.95,-.55],[1.05,-.44],[1.14,-.56],[1.12,-.43],[1.28,-.55],[1.4,-.54],[1.5,-.45],[1.3,-.38],[1.52,-.33],[.1,.19],[.14,.18],[.17,.03],[.13,-.07],[.5,-.3],[.6,-.44],[.8,-.56],[.9,-.36],
[-.9,.5],[-.86,.6],[-.8,.66],[-.9,.34],[-.98,.3],[-.76,.7],[-.72,.62],[-.7,.8],[-.55,.87],[-.62,.86],[.72,.7],[.66,.7],[.8,.55],[.86,.6],[.93,.52],[.87,.38],[.95,.36],[.95,.25],[.96,.1],[1,.06],[.13,.12],[.12,.2],[.03,.17],[.09,.35],[.05,.28],[.2,-.03],[.12,-.13],[.24,-.16],[.33,-.28],[.42,-.27],[.5,-.4],[.58,-.47],[.66,-.38],[.8,-.42],[.86,-.55],[1.1,-.55],[1.2,-.45],[1.22,-.56],[1.32,-.5],[1.38,-.46],[1.5,-.42],[1.58,-.4],[1.62,-.37],[1.7,-.3],[1.68,-.08],[1.74,-.1],[1.84,.07],[1.9,.25],[2,.3],[2.02,.42],[1.96,.52],[2,.5]];

const moonsGenerated = [[-1.06,-.01],[-1.01,-.05],[-1.055,-.05],[-.95,-.155],[-.89,-.03],[-.94,.005],[-1,.065],[-1,.13],[-.94,.2],[-.95,.26],[-.975,.305],[-.91,.32],[-.86,.365],[-.95,.39],[-.91,.44],[-.84,.47],[-.8,.51],[-.9,.51],[-.86,.565],[-.825,.595],[-.875,.645],[-.84,.705],[-.79,.675],[-.74,.66],[-.65,.675],[-.79,.75],[-.71,.735],[-.64,.765],[-.575,.75],[-.65,.825],[-.59,.83],[-.51,.84],[-.41,.845],[-.46,.9],[-.39,.93],[-.41,.97],[-.29,.875],[-.325,.96],[-.3,.995],[-.225,.945],[-.175,.87],[-.11,.9],[-.16,1.04],[-.11,1.04],[-.16,.975],[-.04,.92],[-.06,.995],[.04,.975],[.04,1.04],[.09,.9],[.11,1],[.16,.9],[.175,1.05],[.16,.975],[.25,.845],[.28,1.06],[.33,1.045],[.24,.945],[.31,.89],[.375,.81],[.39,.98],[.43,.975],[.41,.9],[.475,.78],[.525,.965],[.51,.74],[.545,.69],[.59,.92],[.625,.72],[.675,.88],[.7,.94],[.56,.84],[.61,.81],[.675,.64],[.7,.77],[.75,.795],[.69,.705],[.76,.735],[.745,.575],[.79,.675],[.9,.72],[.875,.665],[.875,.585],[.84,.51],[.825,.615],[.995,.54],[1,.5],[.91,.5],[.875,.435],[1.04,.415],[.95,.41],[.855,.35],[1.04,.38],[1.07,.335],[.99,.35],[.91,.28],[1,.265],[.88,.195],[.95,.2],[1.04,.21],[1.04,.17],[.91,.16],[.985,.155],[1.04,.11],[.94,.095],[1.12,.08],[.83,.075],[.96,.06],[1.04,.03],[.91,-.01],[1.075,-.015],[.91,-.04],[1.01,-.03],[.94,-.105],[1.12,-.085],[1.01,-.13],[1.09,-.135],[-.11,1.12],[-.01,1.08],[-.25,1.06],[-.225,1.06],[-.37,1.015],[-.66,.96],[-.77,.875],[-.675,.875],[-.575,.89],[-.54,.93],[-.49,.96],[-.71,.81],[-.455,.785],[-.355,.805],[-.48,.71],[-.395,.685],[-.355,.68],[-.21,.685],[-.595,.615],[-.64,.575],[-.72,.495],[-.73,.46],[-.74,.575],[-.94,.57],[-.93,.505],[-1.01,.445],[-.8,.385],[-.82,.34],[-1.03,.365],[-1.04,.325],[-1.02,.26],[-.855,.235],[-.875,.2],[-1.03,.185],[-1.08,.135],[-.92,.15],[-.91,.09],[-1.06,.085],
[-.025,.64],[-.045,.63],[.07,.57],[-.06,.555],[-.1,.52],[.06,.495],[.01,.57],[-.04,.51],[.01,.45],[-.11,.42],[-.1,.39],[.06,.38],[.11,.315],[-.06,.36],[.01,.335],[-.12,.295],[-.05,.265],[.09,.26],[.1,.23],[0,.235],[.04,.2],[-.06,.17],[.01,.145],[.06,.125],[.14,.105],[.01,.045],[.06,.06],[.1,.015],[.19,0],[.01,-.04],[.06,-.025],[.14,-.03],[.05,-.05],[.25,-.075],[.09,-.105],[.16,-.1],[.125,-.175],[.225,-.145],[.29,-.13],[.24,-.27],[.21,-.21],[.31,-.19],[.375,-.165],[.31,-.32],[.31,-.345],[.41,-.225],[.525,-.255],[.56,-.3],[.39,-.29],[.39,-.42],[.425,-.435],[.45,-.335],[.54,-.35],[.55,-.52],[.625,-.52],[.61,-.395],[.54,-.47],[.645,-.59],[.72,-.6],[.69,-.375],[.775,-.39],[.66,-.47],[.775,-.545],[.825,-.545],[.74,-.485],[.89,-.605],[.97,-.61],[.895,-.41],[.85,-.455],[.96,-.435],[.91,-.53],[1.025,-.56],[1.01,-.47],[1.12,-.575],[1.2,-.6],[1.135,-.44],[1.2,-.405],[1.09,-.5],[1.24,-.53],[1.34,-.55],[1.31,-.39],[1.375,-.345],[1.275,-.48],[1.48,-.46],[1.45,-.35],[1.45,-.265],[1.41,-.44],[1.525,-.305],[1.575,-.44],[1.59,-.44],[1.575,-.23],[1.51,-.375],[1.605,-.11],[1.625,-.16],[1.7,-.32],[1.65,-.365],[1.6,-.275],[1.69,-.115],[1.675,-.215],[1.76,-.23],[1.825,-.195],[1.86,-.13],[1.91,-.075],[1.735,-.045],[1.79,.045],[1.815,.095],[1.86,.125],[1.91,-.01],[1.86,.03],[1.99,.08],[2,.115],[2.04,.175],[1.94,.155],[1.9,.065],[1.83,.26],[1.845,.23],[1.925,.215],[1.91,.26],[2.06,.25],[1.99,.26],[1.89,.34],[2.06,.34],[2.025,.305],[2.06,.41],[1.975,.42],[1.875,.42],[1.925,.465],[1.96,.365],[1.91,.39],[1.99,.525],[2.04,.525],[1.975,.495],[1.91,.63],[1.995,.68],[1.98,.76],
[-.98,.09],[-1.02,.1],[-.96,.16],[-1,.19],[-.93,.24],[-.99,.28],[-.92,.34],[-.96,.36],[-.87,.4],[-.92,.44],[-.83,.49],[-.88,.52],[-.79,.56],[-.83,.6],[-.74,.63],[-.78,.67],[-.68,.7],[-.72,.74],[-.62,.75],[-.65,.8],[-.55,.8],[-.58,.85],[-.48,.85],[-.51,.89],[-.4,.89],[-.43,.94],[-.32,.92],[-.34,.97],[-.24,.94],[-.26,1],[-.16,.96],[-.17,1.01],[-.08,.97],[-.085,1.02],[.005,.975],[.005,1.02],[.09,.96],[.095,1.02],[.18,.95],[.19,1.01],[.26,.93],[.27,.99],[.34,.9],[.36,.96],[.42,.87],[.44,.93],[.49,.83],[.52,.88],[.56,.79],[.6,.84],[.63,.74],[.67,.79],[.7,.68],[.74,.72],[.75,.61],[.8,.66],[.8,.55],[.85,.59],[.85,.48],[.9,.51],[.89,.41],[.93,.44],[.93,.33],[.98,.36],[.96,.26],[1,.27],[.96,.17],[1.01,.14],[.975,.07],[1.02,.06],[.97,-.02],[1.02,-.06],
[-.99,.12],[-.97,.22],[-.95,.29],[-.93,.39],[-.89,.47],[-.83,.53],[-.78,.62],[-.73,.69],[-.66,.73],[-.6,.8],[-.53,.84],[-.45,.89],[-.37,.93],[-.29,.96],[-.2,.98],[-.12,.995],[-.04,1],[.05,1],[.14,.985],[.22,.97],[.31,.95],[.39,.92],[.47,.88],[.55,.84],[.62,.79],[.68,.73],[.74,.67],[.78,.6],[.86,.54],[.9,.46],[.97,.44],[1,.4],[.98,.22],[.99,.1],[.98,.02],
[.04,.43],[-.03,.42],[.05,.32],[-.02,.31],[.07,.24],[.01,.22],[.1,.16],[.04,.14],[.13,.08],[.08,.06],[.16,.02],[.12,-.02],[.21,-.06],[.17,-.1],[.26,-.13],[.22,-.17],[.32,-.2],[.28,-.24],[.38,-.25],[.35,-.3],[.45,-.3],[.42,-.35],[.52,-.35],[.49,-.39],[.6,-.39],[.57,-.44],[.68,-.42],[.66,-.48],[.76,-.44],[.74,-.5],[.84,-.46],[.83,-.52],[.92,-.47],[.92,-.53],[1.01,-.48],[1.01,-.54],[1.09,-.47],[1.1,-.53],[1.18,-.46],[1.19,-.52],[1.26,-.44],[1.27,-.5],[1.34,-.41],[1.36,-.47],[1.42,-.38],[1.44,-.44],[1.49,-.34],[1.52,-.39],[1.56,-.29],[1.59,-.34],[1.63,-.24],[1.66,-.29],[1.7,-.19],[1.73,-.23],[1.75,-.12],[1.79,-.16],[1.8,-.05],[1.84,-.08],[1.85,.02],[1.89,-.01],[1.88,.1],[1.93,.07],[1.92,.17],[1.97,.16],[1.96,.21],[1.93,.32],[1.97,.32],[2,.38],
[.02,.37],[.03,.28],[.05,.19],[.08,.11],[.12,.03],[.17,-.05],[.22,-.12],[.27,-.19],[.34,-.25],[.4,-.3],[.47,-.35],[.55,-.39],[.63,-.43],[.71,-.46],[.79,-.48],[.88,-.5],[.96,-.5],[1.05,-.5],[1.14,-.49],[1.22,-.48],[1.31,-.46],[1.39,-.42],[1.47,-.38],[1.55,-.34],[1.62,-.28],[1.68,-.23],[1.74,-.17],[1.8,-.1],[1.85,-.03],[1.89,.05],[1.94,.13],[1.97,.2],[1.98,.29],[2,.44],[2.02,.36],
[.8,-.42],[.9,-.56],[1,-.58],[.7,-.52],[1.08,-.44],[1.26,-.45],[1.44,-.4],[1.62,-.33],[1.72,-.12],[1.86,.08],[1.96,.1],[1.83,.03],[1.8,-.12],[.15,-.06],[.22,-.08],[.1,-.05],[.18,-.14],[.28,-.2],
[-.96,.44],[-.88,.55],[-.82,.65],[-.78,.72],[-.72,.78],[-.95,.32],[-.98,.2],[-.86,.3],[-.76,.82],[.2,.95],[.3,1],[.4,.87],[.92,.4],[.95,.45],[.98,.28],[1.02,.33],[.96,.02],[1.02,.12],[.02,.52],[.05,.45],[-.02,.47],[0,.25],[.12,.05],[.25,-.1],[.22,-.22],[.33,-.15],[1.9,.2],[1.86,.18],[1.9,.14],[2.02,.22],[2,.34],[1.95,.45]];

const blue = '#1f77b4', red = '#ff0000';
const panels = [
 {d: zFromX, c: blue, x: [-3.454, 3.664], y: [-5.158, 3.063], dx: [-3,-2,-1,0,1,2,3], dy: [-5,-4,-3,-2,-1,0,1,2,3], t: '<i>z</i>\u2009=\u2009<i>f</i>(<i>X</i>)', l: 189, r: 1243.8, tp: 96.2, b: 916.8},
 {d: zPrior, c: blue, x: [-3.071, 3.529], y: [-3.505, 3.595], dx: [-3,-2,-1,0,1,2,3], dy: [-3,-2,-1,0,1,2,3], t: '<i>z</i>\u2009\u223C\u2009<i>p</i>(<i>z</i>)', l: 1456.2, r: 2511.3, tp: 96.2, b: 916.8},
 {d: moonsData, c: red, x: [-1.248, 2.261], y: [-.746, 1.213], dx: [-1,-.5,0,.5,1,1.5,2], dy: [-.5,-.25,0,.25,.5,.75,1], t: '<i>X</i>\u2009\u223C\u2009<i>p</i>(<i>X</i>)', l: 189, r: 1243.8, tp: 1084.7, b: 1905.3},
 {d: moonsGenerated, c: red, x: [-1.24, 2.222], y: [-.696, 1.207], dx: [-1,-.5,0,.5,1,1.5,2], dy: [-.5,-.25,0,.25,.5,.75,1], t: '<i>X</i>\u2009=\u2009<i>g</i>(<i>z</i>)', l: 1456.2, r: 2511.3, tp: 1084.7, b: 1905.3}
];
const W = 2545, H = 2006, font = {family: '"DejaVu Sans"', size: 41.67, color: '#000'};
const traces = [], layout = {width: W, height: H, margin: {l:0,r:0,t:0,b:0}, paper_bgcolor:'#fff', plot_bgcolor:'#fff', showlegend:false, font, annotations: []};
panels.forEach((p, i) => {
  const n = i ? i + 1 : '';
  traces.push({type:'scatter', mode:'markers', x:p.d.map(q=>q[0]), y:p.d.map(q=>q[1]), xaxis:'x'+n, yaxis:'y'+n, marker:{color:p.c, size:28, line:{width:0}}, hoverinfo:'skip'});
  const ax = {showline:true, mirror:true, linecolor:'#000', linewidth:3.33, ticks:'outside', ticklen:14.6, tickwidth:3.33, tickcolor:'#000', showgrid:false, zeroline:false, tickfont:font, automargin:false};
  layout['xaxis'+n] = {...ax, domain:[p.l/W, p.r/W], range:p.x, anchor:'y'+n, tickmode:'array', tickvals:p.dx, ticktext:p.dx.map(v=>(i<2?String(v):v.toFixed(1)).replace('-','\u2212')), ticklabelstandoff:-6};
  layout['yaxis'+n] = {...ax, domain:[1-p.b/H, 1-p.tp/H], range:p.y, anchor:'x'+n, tickmode:'array', tickvals:p.dy, ticktext:p.dy.map(v=>(i<2?String(v):v.toFixed(2)).replace('-','\u2212')), ticklabelstandoff:5, ticklabelshift:1};
  layout.annotations.push({text:p.t, xref:'paper', yref:'paper', x:(p.l+p.r)/2/W, y:1-(p.tp-42)/H, xanchor:'center', yanchor:'middle', showarrow:false, font:{family:'"DejaVu Sans"', size:50, color:'#000'}});
});
Plotly.newPlot('c', traces, layout, {displayModeBar:false, staticPlot:true});
</script></body></html>
